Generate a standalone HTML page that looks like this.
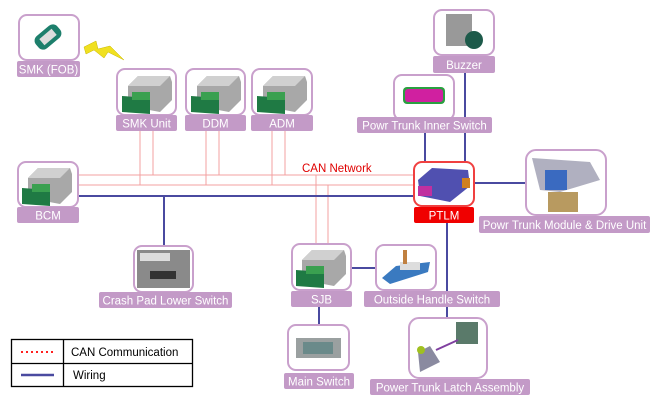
<!DOCTYPE html>
<html><head><meta charset="utf-8"><style>
html,body{margin:0;padding:0;background:#fff;}
svg{display:block;font-family:"Liberation Sans",sans-serif;}
.box{fill:#fff;stroke:#c9a0cc;stroke-width:2;}
.lbl{fill:#c39ac7;}
.lt{fill:#fff;font-size:11.5px;text-anchor:middle;}
.can{stroke:#f3a0a0;stroke-width:1;fill:none;}
.w{stroke:#4a4aa0;stroke-width:2;fill:none;}
</style></head><body>
<svg width="659" height="405" viewBox="0 0 659 405">
<defs>
<g id="ecu">
<polygon points="8,14 18,4 50,4 52,10 52,28 40,40 8,34" fill="#a8a8a8"/>
<polygon points="8,14 18,4 50,4 40,14" fill="#d0d0d0"/>
<polygon points="2,24 30,26 30,42 2,40" fill="#1f7a44"/>
<rect x="12" y="20" width="18" height="8" fill="#3aa050"/>
</g>
</defs>
<!-- CAN lines -->
<g class="can">
<line x1="78" y1="175" x2="414" y2="175"/>
<line x1="78" y1="185" x2="414" y2="185"/>
<line x1="140" y1="131" x2="140" y2="185"/><line x1="153" y1="131" x2="153" y2="175"/>
<line x1="206" y1="131" x2="206" y2="185"/><line x1="219" y1="131" x2="219" y2="175"/>
<line x1="272" y1="131" x2="272" y2="185"/><line x1="285" y1="131" x2="285" y2="175"/>
<line x1="316" y1="175" x2="316" y2="245"/><line x1="328" y1="185" x2="328" y2="245"/>
</g>
<!-- wiring -->
<g class="w">
<line x1="78" y1="196" x2="414" y2="196"/>
<line x1="164" y1="196" x2="164" y2="246"/>
<line x1="465" y1="73" x2="465" y2="162"/>
<line x1="425" y1="133" x2="425" y2="162"/>
<line x1="474" y1="183" x2="526" y2="183"/>
<line x1="447" y1="223" x2="447" y2="318"/>
<line x1="351" y1="268" x2="376" y2="268"/>
<line x1="319" y1="307" x2="319" y2="326"/>
</g>
<text x="302" y="172" fill="#e00000" font-size="11.5">CAN Network</text>
<!-- lightning -->
<polygon points="84,47 96,41 98,49 110,46 124,60 108,52 104,58 94,50 86,54" fill="#f0e020" stroke="#c8b800" stroke-width="0.5"/>
<!-- SMK FOB -->
<rect class="box" x="19" y="15" width="60" height="45" rx="8"/>
<g transform="translate(48,37) rotate(-40)"><rect x="-14" y="-8" width="28" height="16" rx="6" fill="#1d7f6c"/><rect x="-8" y="-4" width="16" height="8" fill="#ddd"/></g>
<rect class="lbl" x="17" y="61" width="63" height="16" rx="2"/><text class="lt" x="48.5" y="73.5">SMK (FOB)</text>
<!-- SMK Unit / DDM / ADM -->
<rect class="box" x="117" y="69" width="59" height="46" rx="8"/><use href="#ecu" x="120" y="72"/>
<rect class="lbl" x="116" y="115" width="61" height="16" rx="2"/><text class="lt" x="146.5" y="127.5">SMK Unit</text>
<rect class="box" x="186" y="69" width="59" height="46" rx="8"/><use href="#ecu" x="189" y="72"/>
<rect class="lbl" x="185" y="115" width="61" height="16" rx="2"/><text class="lt" x="215.5" y="127.5">DDM</text>
<rect class="box" x="252" y="69" width="60" height="46" rx="8"/><use href="#ecu" x="255" y="72"/>
<rect class="lbl" x="251" y="115" width="62" height="16" rx="2"/><text class="lt" x="282" y="127.5">ADM</text>
<!-- BCM -->
<rect class="box" x="18" y="162" width="60" height="45" rx="8"/><use href="#ecu" x="20" y="164"/>
<rect class="lbl" x="17" y="207" width="62" height="16" rx="2"/><text class="lt" x="48" y="219.5">BCM</text>
<!-- Crash pad -->
<rect class="box" x="134" y="246" width="59" height="46" rx="8"/>
<rect x="137" y="250" width="53" height="38" fill="#8a8a8a"/><rect x="140" y="253" width="30" height="8" fill="#ddd"/><rect x="150" y="271" width="26" height="8" fill="#333"/>
<rect class="lbl" x="99" y="292" width="133" height="16" rx="2"/><text class="lt" x="165.5" y="304.5">Crash Pad Lower Switch</text>
<!-- Buzzer -->
<rect class="box" x="434" y="10" width="60" height="45" rx="8"/>
<rect x="446" y="14" width="26" height="32" fill="#999"/><circle cx="474" cy="40" r="9" fill="#1d5a4a"/>
<rect class="lbl" x="433" y="56" width="62" height="17" rx="2"/><text class="lt" x="464" y="69">Buzzer</text>
<!-- Inner switch -->
<rect class="box" x="394" y="75" width="60" height="45" rx="8"/>
<rect x="403" y="87" width="42" height="17" rx="4" fill="#2aa040"/><rect x="405" y="89" width="38" height="13" rx="3" fill="#d020a0"/>
<rect class="lbl" x="357" y="117" width="135" height="16" rx="2"/><text class="lt" x="424.5" y="129.5">Powr Trunk Inner Switch</text>
<!-- PTLM -->
<rect x="414" y="162" width="60" height="44" rx="8" fill="#fff" stroke="#f04040" stroke-width="2"/>
<polygon points="418,180 432,168 468,170 470,186 450,202 420,196" fill="#5050b0"/>
<rect x="418" y="186" width="14" height="10" fill="#c030a0"/><rect x="462" y="178" width="8" height="10" fill="#d08020"/>
<rect x="414" y="207" width="60" height="16" rx="2" fill="#f00000"/><text class="lt" x="444" y="219.5">PTLM</text>
<!-- Drive Unit -->
<rect class="box" x="526" y="150" width="80" height="65" rx="10"/>
<polygon points="532,158 590,162 600,180 560,192 540,190" fill="#b0b0c0"/><rect x="545" y="170" width="22" height="20" fill="#3a6ac0"/><rect x="548" y="192" width="30" height="20" fill="#b89a60"/>
<rect class="lbl" x="479" y="216" width="171" height="17" rx="2"/><text class="lt" x="564.5" y="229">Powr Trunk Module &amp; Drive Unit</text>
<!-- SJB -->
<rect class="box" x="292" y="244" width="59" height="46" rx="8"/><use href="#ecu" x="294" y="246"/>
<rect class="lbl" x="291" y="291" width="61" height="16" rx="2"/><text class="lt" x="321.5" y="303.5">SJB</text>
<!-- Outside handle -->
<rect class="box" x="376" y="245" width="60" height="45" rx="8"/>
<polygon points="382,278 396,266 430,262 428,272 390,284" fill="#3a7ac0"/><rect x="400" y="262" width="20" height="8" fill="#ddd"/><rect x="403" y="250" width="4" height="14" fill="#c08040"/>
<rect class="lbl" x="364" y="291" width="136" height="16" rx="2"/><text class="lt" x="432" y="303.5">Outside Handle Switch</text>
<!-- Main switch -->
<rect class="box" x="288" y="325" width="61" height="45" rx="8"/>
<rect x="296" y="338" width="45" height="20" fill="#9aa0a0"/><rect x="303" y="342" width="30" height="12" fill="#6a8a8a"/>
<rect class="lbl" x="284" y="373" width="70" height="16" rx="2"/><text class="lt" x="319" y="385.5">Main Switch</text>
<!-- Latch -->
<rect class="box" x="409" y="318" width="78" height="60" rx="10"/>
<rect x="456" y="322" width="22" height="22" fill="#5a7a6a"/><polygon points="418,352 430,346 440,362 420,372" fill="#8a8aa0"/><circle cx="421" cy="350" r="4" fill="#a0c020"/><line x1="436" y1="350" x2="458" y2="340" stroke="#8040a0" stroke-width="2"/>
<rect class="lbl" x="370" y="379" width="160" height="16" rx="2"/><text class="lt" x="450" y="391.5">Power Trunk Latch Assembly</text>
<!-- Legend -->
<rect x="11.5" y="339.5" width="181" height="47" fill="#fff" stroke="#000" stroke-width="1.3"/>
<line x1="63.5" y1="339.5" x2="63.5" y2="386.5" stroke="#000" stroke-width="1.3"/>
<line x1="11.5" y1="363.5" x2="192.5" y2="363.5" stroke="#000" stroke-width="1.3"/>
<line x1="21" y1="352" x2="55" y2="352" stroke="#ff2020" stroke-width="2" stroke-dasharray="2,3"/>
<line x1="21" y1="375" x2="54" y2="375" stroke="#4a4aa0" stroke-width="2.5"/>
<text x="71" y="356" font-size="11.5" fill="#000">CAN Communication</text>
<text x="73" y="379" font-size="11.5" fill="#000">Wiring</text>
</svg>
</body></html>
